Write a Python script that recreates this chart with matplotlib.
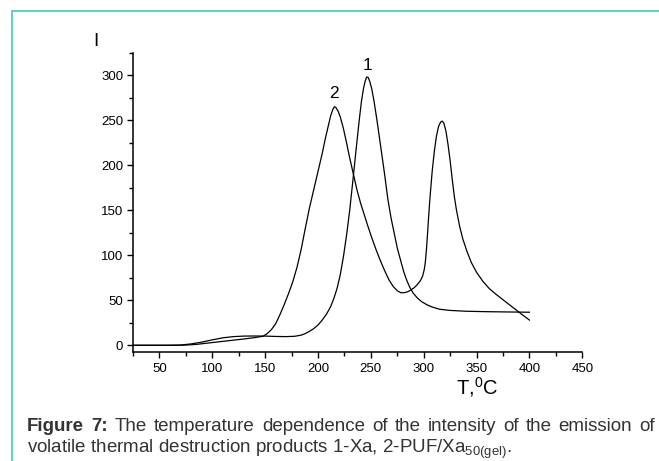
import matplotlib
matplotlib.use("Agg")
import matplotlib.pyplot as plt
from matplotlib.patches import Rectangle
from matplotlib.ticker import MultipleLocator

plt.rcParams['font.family'] = ['Liberation Sans', 'DejaVu Sans']
plt.rcParams['mathtext.fontset'] = 'custom'
plt.rcParams['mathtext.rm'] = 'Liberation Sans'
plt.rcParams['mathtext.it'] = 'Liberation Sans'

# curve 1 (Xa)
t1 = [25, 60, 70, 80, 90, 100, 110, 120, 130, 140, 150, 160, 170, 178, 184,
      188, 192, 196, 200, 204, 208, 212, 215, 218, 221, 224, 227, 230, 233,
      236, 239, 241, 243, 244.5, 246, 247.5, 249, 251, 253, 255, 257, 260,
      263, 266, 269, 272, 275, 278, 281, 284, 287, 290, 294, 298, 303, 308,
      315, 325, 340, 360, 380, 400]
i1 = [0, 0, 0.3, 1.5, 3.5, 6, 8.3, 9.6, 10.2, 10.3, 10.2, 9.8, 9.6, 10, 11.2,
      13, 15.5, 18.5, 22.5, 28, 34.5, 43, 52, 63, 78, 98, 122, 150, 183,
      217, 250, 270, 285, 293, 298, 297.5, 293, 284, 271, 256, 240, 215,
      190, 163, 142, 125, 108, 95, 82, 72, 64, 58, 52.5, 48.5, 45, 42.5,
      40, 38.7, 37.8, 37.3, 37, 36.7]

# curve 2 (PUF/Xa50(gel))
t2 = [25, 70, 75, 85, 100, 115, 130, 140, 148, 152, 156, 160, 164, 168, 172,
      176, 180, 184, 188, 192, 196, 200, 204, 207, 210, 212, 214, 215.5, 217,
      219, 221, 224, 227, 230, 233.5, 237, 240.5, 243.5, 247, 251, 255, 259,
      263, 267, 271, 275, 278.5, 282, 285, 288, 291, 294, 297, 299, 300.5,
      301.5, 302.5, 303.5, 304.5, 306, 308, 310, 312, 314, 316, 317.5, 319,
      321, 323, 325, 327, 329, 331, 334, 337, 341, 345, 350, 356, 362, 368,
      374, 380, 386, 392, 400]
i2 = [0, 0, 0.2, 1, 3, 5, 7, 8.5, 10, 13, 17.5, 24, 34, 45, 57,
      70, 86, 106, 130, 153, 173, 193, 213, 230, 245, 255, 262, 265, 264,
      260, 254, 241, 225, 208, 190, 172, 157, 146, 133, 119, 106, 94,
      83, 73, 65.5, 60.5, 58.3, 58.5, 59.5, 61.5, 64, 67.5, 72, 77, 84,
      92, 105, 122, 140, 165, 193, 215, 232, 243, 248, 249, 247,
      238, 223, 205, 184, 165, 150, 132, 118, 104, 92, 81, 71, 63, 57,
      51.5, 46, 40.5, 35, 28]

labels = ['1', '2']
label_x = [247, 215]
label_y = [311, 280]

caption_1 = [('Figure', 'bold'), ('7:', 'bold'), ('The', 'normal'),
             ('temperature', 'normal'), ('dependence', 'normal'),
             ('of', 'normal'), ('the', 'normal'), ('intensity', 'normal'),
             ('of', 'normal'), ('the', 'normal'), ('emission', 'normal'),
             ('of', 'normal')]
caption_2 = (r'volatile thermal destruction products 1-Xa, '
             r'2-PUF/Xa$_{\mathregular{50(gel)}}$.')

fig = plt.figure(figsize=(6.59, 4.61), dpi=100)
ax = fig.add_axes([0.2018, 0.2364, 0.6818, 0.6493])

ax.plot(t1, i1, color='black', lw=0.9)
ax.plot(t2, i2, color='black', lw=0.9)
for lab, x, y in zip(labels, label_x, label_y):
    ax.text(x, y, lab, ha='center', va='center', fontsize=12.5)

ax.set_xlim(25, 450)
ax.set_ylim(-7.5, 325)
ax.xaxis.set_major_locator(MultipleLocator(50))
ax.xaxis.set_minor_locator(MultipleLocator(25))
ax.yaxis.set_major_locator(MultipleLocator(50))
ax.yaxis.set_minor_locator(MultipleLocator(25))
ax.spines['top'].set_visible(False)
ax.spines['right'].set_visible(False)
for s in ['left', 'bottom']:
    ax.spines[s].set_linewidth(1.1)
ax.tick_params(which='major', direction='out', length=4.5, width=1.0,
               labelsize=9.5)
ax.tick_params(which='minor', direction='out', length=3, width=1.0)
ax.tick_params(axis='x', pad=3.5)
ax.tick_params(axis='y', pad=2.5)
ax.patch.set_alpha(0)

fig.text(0.1452, 0.9089, 'I', ha='center', va='center', fontsize=13.5)
fig.text(0.7234, 0.1605, r'T,$^{\mathregular{0}}$C', ha='center',
         va='center', fontsize=14.5)

# frame line of the figure box
fig.add_artist(Rectangle((12 / 659, -0.1), 1.0, 1.1 - 11 / 461,
                         transform=fig.transFigure, fill=False,
                         edgecolor='#66d0c0', lw=1.5))

# first caption line is justified between x=27 and x=655 px
W, H = 659, 461
renderer = fig.canvas.get_renderer()
words = []
for w, weight in caption_1:
    t = fig.text(0, 1 - 431 / H, w, fontweight=weight, fontsize=13.5,
                 color='#333333', va='baseline')
    words.append((t, t.get_window_extent(renderer).width))
gap = (655 - 27 - sum(wd for _, wd in words)) / (len(words) - 1)
x = 27
for t, wd in words:
    t.set_x(x / W)
    x += wd + gap

fig.text(27 / W, 1 - 452.7 / H, caption_2, fontsize=13.5, color='#333333',
         va='baseline')

fig.savefig('out.png', dpi=100)
